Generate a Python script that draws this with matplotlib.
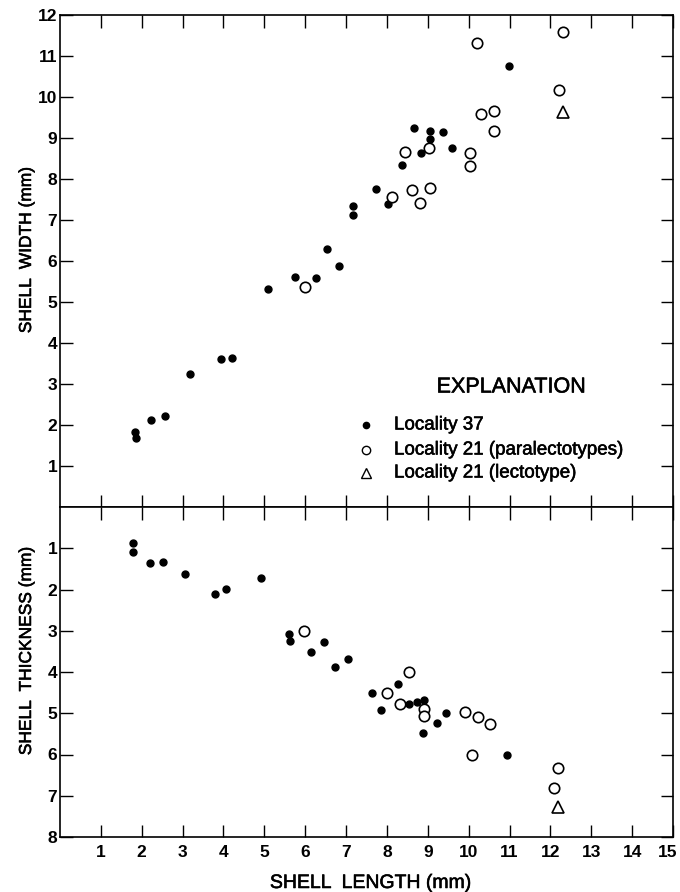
import matplotlib
matplotlib.use("Agg")
import matplotlib.pyplot as plt
import matplotlib.transforms as mtransforms
import matplotlib.patheffects as pe

plt.rcParams['font.family'] = ['Liberation Sans', 'DejaVu Sans']

# ---- Data: shell width vs length ----
w_loc37_len = [1.83, 1.86, 2.23, 2.57, 3.18, 3.95, 4.21, 5.08, 5.76, 6.26, 6.53, 6.83,
               7.16, 7.16, 7.73, 8.02, 8.36, 8.66, 8.84, 9.06, 9.06, 9.36, 9.58, 10.99]
w_loc37_wid = [1.84, 1.68, 2.13, 2.22, 3.25, 3.61, 3.64, 5.32, 5.61, 5.58, 6.29, 5.88,
               7.33, 7.11, 7.76, 7.38, 8.33, 9.25, 8.64, 8.97, 9.17, 9.15, 8.76, 10.76]
w_para_len = [5.99, 8.13, 8.43, 8.62, 8.82, 9.04, 9.05, 10.04, 10.03, 10.20, 10.31,
              10.63, 10.63, 12.20, 12.30]
w_para_wid = [5.37, 7.56, 8.65, 7.74, 7.41, 8.75, 7.77, 8.63, 8.32, 11.31, 9.58,
              9.67, 9.16, 10.18, 11.58]
w_lecto_len = [12.31]
w_lecto_wid = [9.63]

# ---- Data: shell thickness vs length ----
t_loc37_len = [1.78, 1.78, 2.21, 2.51, 3.07, 3.80, 4.05, 4.93, 5.60, 5.64, 6.13, 6.45,
               6.72, 7.05, 7.63, 7.85, 8.26, 8.54, 8.73, 8.91, 8.89, 9.22, 9.44, 10.95]
t_loc37_thk = [0.87, 1.08, 1.36, 1.33, 1.62, 2.11, 1.99, 1.72, 3.08, 3.25, 3.51, 3.28,
               3.88, 3.68, 4.51, 4.93, 4.30, 4.78, 4.73, 4.68, 5.49, 5.24, 4.99, 6.02]
t_para_len = [5.96, 8.01, 8.31, 8.53, 8.91, 8.91, 9.90, 10.23, 10.53, 10.09, 12.19, 12.10]
t_para_thk = [3.00, 4.51, 4.78, 4.01, 4.89, 5.07, 4.98, 5.10, 5.27, 6.02, 6.33, 6.82]
t_lecto_len = [12.19]
t_lecto_thk = [7.28]

x_ticks = list(range(1, 16))
w_ticks = list(range(1, 13))
t_ticks = list(range(1, 9))

legend_title = "EXPLANATION"
legend_labels = ["Locality 37", "Locality 21 (paralectotypes)", "Locality 21 (lectotype)"]

W, H = 680, 892
fig = plt.figure(figsize=(W / 100, H / 100), dpi=100)
L, R = 60, 673
ax1 = fig.add_axes([L / W, 1 - 507 / H, (R - L) / W, (507 - 15) / H])
ax2 = fig.add_axes([L / W, 1 - 837 / H, (R - L) / W, (837 - 507) / H])

filled_kw = dict(linestyle='none', marker='o', markersize=5, color='black')
open_kw = dict(linestyle='none', marker='o', markersize=7.5, markerfacecolor='white',
               markeredgecolor='black', markeredgewidth=1.2)
tri_kw = dict(linestyle='none', marker='^', markersize=8.5, markerfacecolor='white',
              markeredgecolor='black', markeredgewidth=1.2)

ax1.plot(w_loc37_len, w_loc37_wid, **filled_kw)
ax1.plot(w_para_len, w_para_wid, **open_kw)
ax1.plot(w_lecto_len, w_lecto_wid, **tri_kw)

ax2.plot(t_loc37_len, t_loc37_thk, **filled_kw)
ax2.plot(t_para_len, t_para_thk, **open_kw)
ax2.plot(t_lecto_len, t_lecto_thk, **tri_kw)

heavy = [pe.withStroke(linewidth=0.4, foreground='black')]
tick_font = dict(fontsize=12.5, fontweight='bold')
label_font = dict(fontsize=12.5, path_effects=heavy)
xlabel_font = dict(fontsize=14, path_effects=heavy)

for ax in (ax1, ax2):
    ax.set_xlim(0, 15)
    ax.set_xticks(x_ticks)
    for s in ax.spines.values():
        s.set_linewidth(1.2)
        s.set_color('black')
    ax.tick_params(direction='in', length=9, width=1.0, top=True, right=True,
                   bottom=True, left=True, colors='black')

ax1.set_ylim(0, 12)
ax1.set_yticks(w_ticks)
ax1.set_yticklabels([str(v) for v in w_ticks], **tick_font)
ax1.set_xticklabels([])
ax1.tick_params(axis='y', pad=2)
ax1.set_ylabel("SHELL  WIDTH (mm)", **label_font)
ax1.yaxis.set_label_coords((34 - L) / (R - L), (507 - 250) / 492)

ax2.set_ylim(8, 0)
ax2.set_yticks(t_ticks)
ax2.set_yticklabels([str(v) for v in t_ticks], **tick_font)
ax2.set_xticklabels([str(v) for v in x_ticks], **tick_font)
ax2.tick_params(axis='y', pad=2)
ax2.tick_params(axis='x', pad=6)
ax2.set_ylabel("SHELL  THICKNESS (mm)", **label_font)
ax2.yaxis.set_label_coords((34 - L) / (R - L), (837 - 651) / 330)
ax2.set_xlabel("SHELL  LENGTH (mm)", **xlabel_font)
ax2.xaxis.set_label_coords((371 - L) / (R - L), (837 - 875) / 330)

# nudge last x tick label so it stays inside the figure
lab15 = ax2.get_xticklabels()[-1]
lab15.set_transform(lab15.get_transform() +
                    mtransforms.ScaledTranslation(-4 / 72, 0, fig.dpi_scale_trans))

# ---- explanation (legend) ----
def ax1_xy(px, py):
    return ((px - L) / (R - L), (507 - py) / 492)

ax1.text(*ax1_xy(511, 387), legend_title, transform=ax1.transAxes,
         ha='center', va='center', fontsize=15.5, path_effects=heavy)
key_kw = [
    dict(marker='o', markersize=4.5, color='black'),
    dict(marker='o', markersize=6, markerfacecolor='white',
         markeredgecolor='black', markeredgewidth=1.0),
    dict(marker='^', markersize=6.5, markerfacecolor='white',
         markeredgecolor='black', markeredgewidth=1.0),
]
row_y = [425, 450, 473]
for lbl, kw, py in zip(legend_labels, key_kw, row_y):
    kx, ky = ax1_xy(366, py)
    ax1.plot([kx], [ky], linestyle='none', transform=ax1.transAxes, clip_on=False, **kw)
    tx, ty = ax1_xy(394, py)
    ax1.text(tx, ty, lbl, transform=ax1.transAxes, ha='left', va='center',
             fontsize=13.5, path_effects=heavy)

fig.savefig("out.png", dpi=100)
